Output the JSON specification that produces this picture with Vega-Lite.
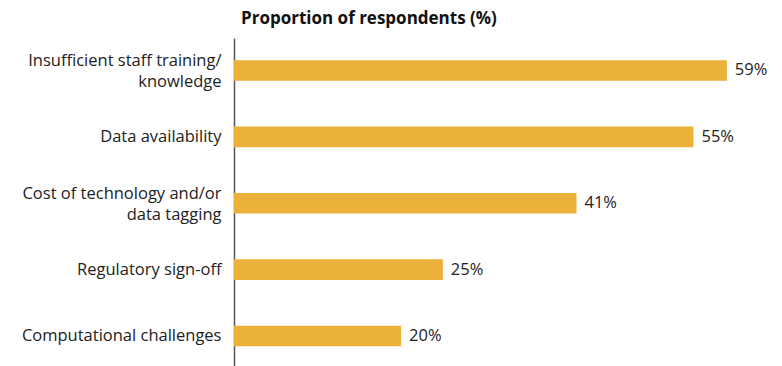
{
  "$schema": "https://vega.github.io/schema/vega-lite/v6.json",
  "autosize": {"type": "none"},
  "width": 548,
  "height": 330.5,
  "padding": {"left": 234, "top": 38, "right": 0, "bottom": 0},
  "background": "white",
  "title": {
    "text": "Proportion of respondents (%)",
    "anchor": "start",
    "frame": "group",
    "dx": 7,
    "offset": 10,
    "font": "Open Sans",
    "fontSize": 17,
    "fontWeight": "bold",
    "color": "#111"
  },
  "data": {
    "values": [
      {"label": "Insufficient staff training/|knowledge", "value": 59},
      {"label": "Data availability", "value": 55},
      {"label": "Cost of technology and/or|data tagging", "value": 41},
      {"label": "Regulatory sign-off", "value": 25},
      {"label": "Computational challenges", "value": 20}
    ]
  },
  "encoding": {
    "y": {
      "field": "label",
      "type": "nominal",
      "sort": null,
      "scale": {"paddingInner": 0.69, "paddingOuter": 0.334},
      "axis": {
        "title": null,
        "ticks": false,
        "domainColor": "#555",
        "domainWidth": 1.5,
        "labelExpr": "split(datum.label, '|')",
        "labelFont": "Open Sans",
        "labelFontSize": 16.5,
        "labelColor": "#222",
        "labelPadding": 13,
        "labelLineHeight": 21,
        "labelLimit": 300,
        "labelOffset": {"expr": "indexof(datum.value, '|') >= 0 ? -9 : 0"}
      }
    },
    "x": {
      "field": "value",
      "type": "quantitative",
      "scale": {"domain": [0, 65.6]},
      "axis": null
    }
  },
  "layer": [
    {"mark": {"type": "bar", "color": "#EBB13A", "cornerRadius": 0}},
    {
      "mark": {"type": "text", "align": "left", "baseline": "middle", "dx": 8, "font": "Open Sans", "fontSize": 16.5, "color": "#222", "text": {"expr": "datum.value + '%'"}}
    }
  ],
  "config": {"view": {"stroke": null}}
}
